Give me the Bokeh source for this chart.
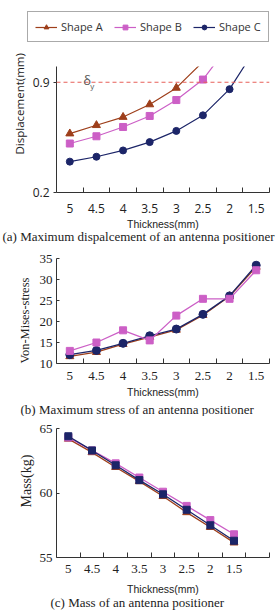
import numpy as np

from bokeh.plotting import figure
from bokeh.layouts import column
from bokeh.models import Range1d, FixedTicker, Legend, LegendItem, Span, Label, Title
from bokeh.embed import file_html
from bokeh.resources import INLINE

# Plate thickness categories (mm), shared by the three panels
thickness = ["5", "4.5", "4", "3.5", "3", "2.5", "2", "1.5"]

# (a) maximum displacement (mm); curves leave the top of the axis
disp_a = [0.574, 0.627, 0.679, 0.759, 0.864, 1.03]
disp_b = [0.511, 0.557, 0.616, 0.686, 0.787, 0.917, 1.14]
disp_c = [0.396, 0.427, 0.467, 0.520, 0.591, 0.690, 0.856, 1.12]
disp_limit = 0.9
disp_ticks = [0.2, 0.9]

# (b) maximum von Mises stress
stress_a = [11.7, 12.7, 14.6, 16.3, 18.0, 21.5, 26.0, 33.0]
stress_b = [13.0, 15.0, 17.9, 15.5, 21.4, 25.4, 25.4, 32.2]
stress_c = [12.1, 13.1, 14.8, 16.6, 18.2, 21.7, 26.1, 33.4]
stress_ticks = [10, 15, 20, 25, 30, 35]

# (c) mass (kg)
mass_a = [64.2, 63.15, 62.0, 60.9, 59.75, 58.5, 57.35, 56.15]
mass_b = [64.3, 63.3, 62.3, 61.2, 60.1, 59.0, 57.9, 56.8]
mass_c = [64.4, 63.3, 62.15, 61.0, 59.9, 58.7, 57.5, 56.3]
mass_ticks = [55, 60, 65]

series_names = ["Shape A", "Shape B", "Shape C"]
COL_A = "#9e3f1b"
COL_B = "#cc5fc6"
COL_C = "#1c2568"
AXIS_COL = "#333333"
TEXT_COL = "#222222"

x_pos = np.arange(len(thickness)) + 0.5

SANS = "Open Sans"
SERIF = "Liberation Serif"


def base_fig(height, border_top, border_bottom, n_slots, y_start, y_end, y_ticks,
             tick_font, tick_size, label_standoff, title_standoff, y_tick_in, y_tick_out):
    p = figure(width=278, height=height, output_backend="svg", toolbar_location=None,
               tools="", x_range=Range1d(0, n_slots), y_range=Range1d(y_start, y_end),
               min_border_left=56, min_border_right=9,
               min_border_top=border_top, min_border_bottom=border_bottom)
    p.grid.visible = False
    p.outline_line_color = None
    p.background_fill_color = "white"
    p.border_fill_color = "white"

    xa = p.xaxis[0]
    xa.ticker = FixedTicker(ticks=[float(v) for v in x_pos],
                            minor_ticks=list(range(1, n_slots + 1)))
    xa.major_label_overrides = {float(v): t for v, t in zip(x_pos, thickness)}
    xa.major_tick_in = 0
    xa.major_tick_out = 0
    xa.minor_tick_in = 5
    xa.minor_tick_out = 0
    xa.minor_tick_line_color = AXIS_COL
    xa.axis_line_color = AXIS_COL
    xa.major_label_text_font = tick_font
    xa.major_label_text_font_size = tick_size
    xa.major_label_text_color = TEXT_COL
    xa.major_label_standoff = label_standoff
    xa.axis_label = "Thickness(mm)"
    xa.axis_label_text_font = "Liberation Sans"
    xa.axis_label_text_font_size = "10.5px"
    xa.axis_label_text_font_style = "normal"
    xa.axis_label_text_color = TEXT_COL
    xa.axis_label_standoff = title_standoff

    ya = p.yaxis[0]
    ya.ticker = FixedTicker(ticks=y_ticks)
    ya.minor_tick_line_color = None
    ya.major_tick_in = y_tick_in
    ya.major_tick_out = y_tick_out
    ya.major_tick_line_color = AXIS_COL
    ya.axis_line_color = AXIS_COL
    ya.major_label_text_font = tick_font
    ya.major_label_text_font_size = tick_size
    ya.major_label_text_color = TEXT_COL
    ya.major_label_standoff = 4
    return p


def add_ytitle(p, text, font, size, offset, standoff):
    p.add_layout(Title(text=text, align="left", offset=offset, standoff=standoff,
                       text_font=font, text_font_size=size, text_font_style="normal",
                       text_color=TEXT_COL), "left")


def add_caption(p, text, offset, standoff):
    p.add_layout(Title(text=text, align="left", offset=offset, standoff=standoff,
                       text_font=SERIF, text_font_size="13px", text_font_style="normal",
                       text_color=TEXT_COL), "below")


def add_series(p, values, color, marker, size, width):
    xs = x_pos[:len(values)]
    ln = p.line(xs, values, line_color=color, line_width=width)
    mk = p.scatter(xs, values, marker=marker, size=size, fill_color=color, line_color=color)
    return [ln, mk]


# ---------- legend strip above (a) ----------
pl = figure(width=278, height=44, output_backend="svg", toolbar_location=None, tools="",
            x_range=Range1d(0, 1), y_range=Range1d(0, 1),
            x_axis_location=None, y_axis_location=None,
            min_border_left=0, min_border_right=0, min_border_top=0, min_border_bottom=0)
if "frame_align" in pl.properties():
    pl.frame_align = False
pl.grid.visible = False
pl.outline_line_color = None
legend_styles = [(COL_A, "triangle", 8), (COL_B, "square", 7), (COL_C, "circle", 7)]
items = []
for name, (col, mk, sz) in zip(series_names, legend_styles):
    # key glyphs only: a single point kept outside the visible range
    r1 = pl.line([5, 6], [5, 6], line_color=col, line_width=1.2)
    r2 = pl.scatter([5], [5], marker=mk, size=sz, fill_color=col, line_color=col)
    items.append(LegendItem(label=name, renderers=[r1, r2]))
legend = Legend(items=items, orientation="horizontal", location=(27, 2),
                label_text_font=SANS, label_text_font_size="11px", label_text_color="#333333",
                border_line_color="#555555", border_line_width=1, background_fill_alpha=1,
                padding=7, spacing=11, glyph_width=22, glyph_height=12,
                label_standoff=4, label_width=42, label_height=12, margin=0)
pl.add_layout(legend, "center")

# ---------- (a) displacement ----------
pa = base_fig(204, 22, 56, len(thickness), 0.2, 1.0, disp_ticks, SANS, "12px", 11, 2, 0, 3)
pa.add_layout(Span(location=disp_limit, dimension="width", line_color="#e8605a",
                   line_dash="4 3", line_width=1.2))
add_series(pa, disp_a, COL_A, "triangle", 8, 1.2)
add_series(pa, disp_b, COL_B, "square", 7, 1.2)
add_series(pa, disp_c, COL_C, "circle", 7, 1.2)
pa.add_layout(Label(x=1.0, y=disp_limit, text="δ", text_font=SANS, text_font_size="13px",
                    text_color="#555555", text_align="left", text_baseline="middle", y_offset=2))
pa.add_layout(Label(x=1.0, y=disp_limit, text="y", text_font=SANS, text_font_size="8px",
                    text_color="#555555", text_align="left", text_baseline="middle",
                    x_offset=7, y_offset=-3))
add_ytitle(pa, "Displacement(mm)", SANS, "11.5px", 38, 6)
add_caption(pa, "(a) Maximum dispalcement of an antenna positioner", -54, -11)

# ---------- (b) stress ----------
pb = base_fig(168, 10, 48, len(thickness), 10, 35, stress_ticks, SERIF, "13px", 8, 3, 3, 0)
add_series(pb, stress_a, COL_A, "triangle", 8, 1.3)
add_series(pb, stress_c, COL_C, "circle", 8, 1.3)
add_series(pb, stress_b, COL_B, "square", 7, 1.3)
add_ytitle(pb, "Von-Mises-stress", SERIF, "12.5px", 0, 10)
add_caption(pb, "(b) Maximum stress of an antenna positioner", -36, -1)

# ---------- (c) mass ----------
pc = base_fig(194, 12, 53, len(thickness) + 1, 55, 65, mass_ticks, SERIF, "13px", 7, 7, 3, 0)
add_series(pc, mass_a, COL_A, "triangle", 8, 1.3)
add_series(pc, mass_b, COL_B, "square", 7, 1.3)
add_series(pc, mass_c, COL_C, "square", 7, 1.3)
add_ytitle(pc, "Mass(kg)", SERIF, "14px", 50, 6)
add_caption(pc, "(c) Mass of an antenna positioner", -6, -9)

layout = column(pl, pa, pb, pc, spacing=0)
open("out.html", "w").write(file_html(layout, INLINE))
